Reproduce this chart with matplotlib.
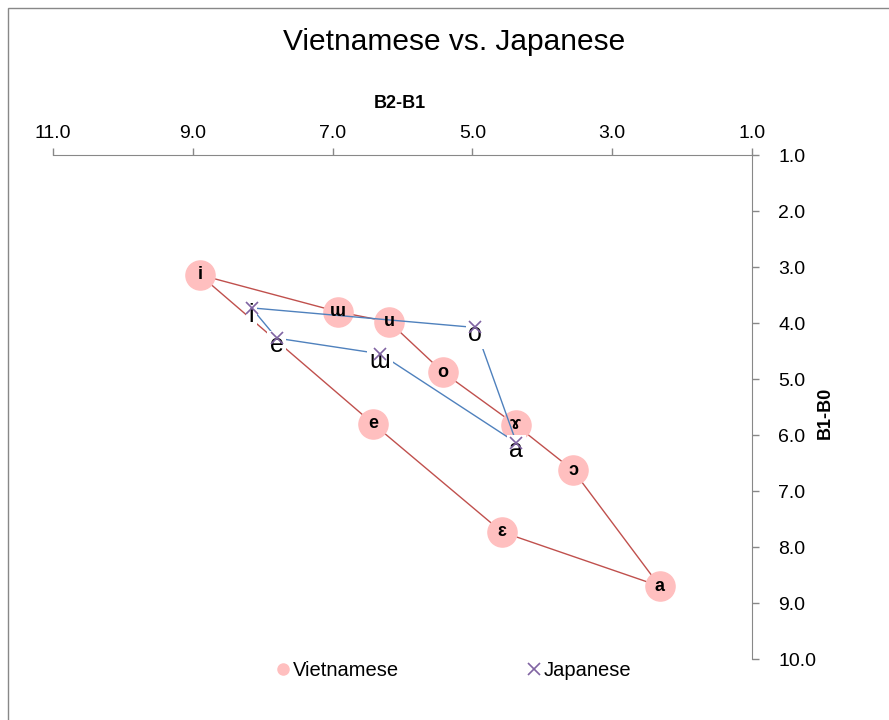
import matplotlib
matplotlib.use('Agg')
import matplotlib.pyplot as plt
from matplotlib.patches import Rectangle

plt.rcParams['font.family'] = ['Liberation Sans', 'DejaVu Sans']

# Vietnamese vowels (B2-B1, B1-B0), drawn as a closed loop
viet_labels = ['i', 'ɯ', 'u', 'o', 'ɤ', 'ɔ', 'a', 'ɛ', 'e']
viet_x = [8.90, 6.92, 6.19, 5.42, 4.38, 3.56, 2.32, 4.58, 6.42]
viet_y = [3.14, 3.80, 3.98, 4.88, 5.82, 6.63, 8.70, 7.73, 5.80]

# Japanese vowels
jap_labels = ['i', 'o', 'a', 'ɯ', 'e']
jap_x = [8.16, 4.96, 4.37, 6.32, 7.80]
jap_y = [3.73, 4.08, 6.14, 4.55, 4.27]

x_ticks = [11, 9, 7, 5, 3, 1]
y_ticks = [1, 2, 3, 4, 5, 6, 7, 8, 9, 10]

fig = plt.figure(figsize=(8.89, 7.2), dpi=100)
ax = fig.add_axes([53/889, 1 - 659/720, 699/889, 504/720])

# chart border
fig.patches.append(Rectangle((8/889, -0.05), 1.2, 1 - 8/720 + 0.05, transform=fig.transFigure,
                             fill=False, edgecolor='#888888', linewidth=1.0))

# Vietnamese series, then Japanese series on top
ax.plot(viet_x + viet_x[:1], viet_y + viet_y[:1], color='#C0504D', linewidth=1.0, zorder=2)
ax.plot(viet_x, viet_y, linestyle='none', marker='o', markersize=21,
        markerfacecolor='#FFBFBF', markeredgecolor='#FFBFBF', zorder=3)
ax.plot(jap_x + jap_x[:1], jap_y + jap_y[:1], color='#4F81BD', linewidth=1.0, zorder=4)
ax.plot(jap_x, jap_y, linestyle='none', marker='x', markersize=8,
        markeredgecolor='#8064A2', markeredgewidth=1.2, zorder=6)

for lab, x, y in zip(viet_labels, viet_x, viet_y):
    ax.text(x, y, lab, ha='center', va='center', fontsize=13, fontweight='bold', zorder=7)
for lab, x, y in zip(jap_labels, jap_x, jap_y):
    ax.annotate(lab, (x, y), xytext=(0, -10), textcoords='offset points',
                ha='center', va='baseline', fontsize=18, zorder=5,
                bbox=dict(boxstyle='square,pad=0.1', facecolor='white', edgecolor='none'))

# legend proxies
ax.plot([], [], linestyle='none', marker='o', markersize=8,
        markerfacecolor='#FFBFBF', markeredgecolor='#FFBFBF', label='Vietnamese')
ax.plot([], [], linestyle='none', marker='x', markersize=8,
        markeredgecolor='#8064A2', markeredgewidth=1.2, label='Japanese')
h, l = ax.get_legend_handles_labels()
fig.legend(h[-2:], l[-2:], loc='center', bbox_to_anchor=(452/889, 1 - 671/720), ncol=2,
           frameon=False, fontsize=14.5, handletextpad=0.0, handlelength=1.0, columnspacing=6.2)

ax.set_xlim(11, 1)
ax.set_ylim(10, 1)
ax.set_xticks(x_ticks)
ax.set_yticks(y_ticks)
ax.xaxis.set_major_formatter(matplotlib.ticker.FormatStrFormatter('%.1f'))
ax.yaxis.set_major_formatter(matplotlib.ticker.FormatStrFormatter('%.1f'))
ax.xaxis.tick_top()
ax.yaxis.tick_right()
for s in ['left', 'bottom']:
    ax.spines[s].set_visible(False)
for s in ['top', 'right']:
    ax.spines[s].set_color('#888888')
ax.tick_params(colors='#888888', labelcolor='black', labelsize=14, length=5, width=1)
ax.tick_params(axis='x', pad=4)
ax.tick_params(axis='y', pad=14)
for t in ax.get_yticklabels():
    t.set_ha('left')

fig.text(400/889, 1 - 103/720, 'B2-B1', ha='center', va='center', fontsize=13, fontweight='bold')
fig.text(825/889, 1 - 413/720, 'B1-B0', ha='center', va='center', rotation=90,
         fontsize=13, fontweight='bold')
fig.text(454/889, 1 - 42/720, 'Vietnamese vs. Japanese', ha='center', va='center', fontsize=21.5)

fig.savefig('out.png', dpi=100)
